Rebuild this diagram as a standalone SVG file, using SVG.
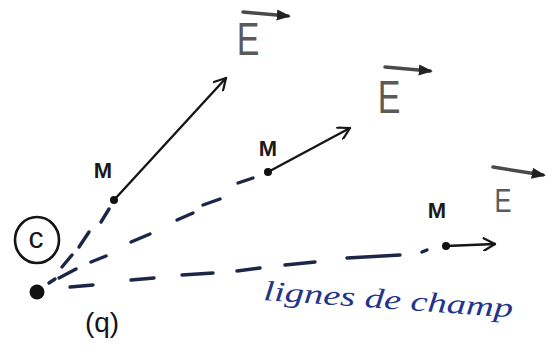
<svg xmlns="http://www.w3.org/2000/svg" width="560" height="354" viewBox="0 0 560 354">
<style>
.sol{stroke:#161616;stroke-width:2.4;fill:none;stroke-linecap:round}
.dash{stroke:#1c2748;stroke-width:3.4;fill:none;stroke-linecap:round}
.vec{stroke:#4a4a4a;stroke-width:3.5;fill:none;stroke-linecap:round}
.m{font-family:"Liberation Sans",Arial,sans-serif;font-size:22px;font-weight:bold;fill:#1a1a1a}
.e{font-family:"Liberation Sans",Arial,sans-serif;fill:#5a5a5a}
.q{font-family:"Liberation Sans",Arial,sans-serif;font-size:28px;fill:#151515}
.lab{font-family:"Liberation Serif","DejaVu Serif",serif;font-style:italic;font-size:28px;fill:#23358a}
</style>
<defs>
<marker id="open" viewBox="0 0 10 10" refX="9" refY="5" markerWidth="14" markerHeight="14" markerUnits="userSpaceOnUse" orient="auto">
<path d="M1,0.5 L9,5 L1,9.5" fill="none" stroke="#161616" stroke-width="1.6" stroke-linecap="round" stroke-linejoin="round"/>
</marker>
<marker id="fill" viewBox="0 0 10 10" refX="8" refY="5" markerWidth="14" markerHeight="14" markerUnits="userSpaceOnUse" orient="auto">
<path d="M0,1 L10,5 L0,9 Z" fill="#222"/>
</marker>
</defs>
<rect width="560" height="354" fill="#fff"/>
<g id="connectors">
<g id="line1">
<line class="dash" x1="49" y1="283" x2="55" y2="279"/>
<line class="dash" x1="62" y1="267" x2="72" y2="255"/>
<line class="dash" x1="79" y1="247" x2="89" y2="232"/>
<line class="dash" x1="101" y1="222" x2="109" y2="209"/>
<line class="sol" x1="114" y1="200" x2="226" y2="78" marker-end="url(#open)"/>
</g>
<g id="line2">
<line class="dash" x1="59" y1="278" x2="76" y2="269"/>
<line class="dash" x1="91" y1="262" x2="106" y2="256"/>
<line class="dash" x1="131" y1="242" x2="150" y2="234"/>
<line class="dash" x1="177" y1="220" x2="193" y2="213"/>
<line class="dash" x1="203" y1="205" x2="220" y2="199"/>
<line class="dash" x1="238" y1="183" x2="253" y2="178"/>
<line class="sol" x1="268" y1="172" x2="350" y2="128" marker-end="url(#open)"/>
</g>
<g id="line3">
<line class="dash" x1="70" y1="287" x2="93" y2="285"/>
<line class="dash" x1="131" y1="280" x2="154" y2="278"/>
<line class="dash" x1="182" y1="275" x2="213" y2="273"/>
<line class="dash" x1="237" y1="271" x2="260" y2="268"/>
<line class="dash" x1="285" y1="265" x2="315" y2="262"/>
<line class="dash" x1="347" y1="258" x2="400" y2="255"/>
<line class="dash" x1="422" y1="252" x2="427" y2="250"/>
<line class="sol" x1="446" y1="246" x2="495" y2="244" marker-end="url(#open)"/>
</g>
</g>
<g id="charge">
<circle cx="37" cy="292" r="7.5" fill="#111"/>
<ellipse cx="37" cy="240" rx="22" ry="23" fill="none" stroke="#151515" stroke-width="2.6"/>
<text x="36" y="248" text-anchor="middle" style="font-family:'Liberation Sans',Arial,sans-serif;font-size:30px;fill:#151515">c</text>
<text class="q" x="102" y="332" text-anchor="middle">(q)</text>
</g>
<g id="M1">
<circle cx="114" cy="200" r="4" fill="#111"/>
<text class="m" x="103" y="178" text-anchor="middle">M</text>
</g>
<g id="E1">
<line class="vec" x1="243" y1="12" x2="288" y2="16" marker-end="url(#fill)"/>
<text class="e" x="248" y="55" text-anchor="middle" font-size="40" transform="translate(248 55) scale(0.85 1.15) translate(-248 -55)">E</text>
</g>
<g id="M2">
<circle cx="268" cy="172" r="4" fill="#111"/>
<text class="m" x="268" y="156" text-anchor="middle">M</text>
</g>
<g id="E2">
<line class="vec" x1="385" y1="67" x2="430" y2="71" marker-end="url(#fill)"/>
<text class="e" x="389" y="113" text-anchor="middle" font-size="40" transform="translate(389 113) scale(0.85 1.15) translate(-389 -113)">E</text>
</g>
<g id="M3">
<circle cx="446" cy="246" r="4" fill="#111"/>
<text class="m" x="437" y="218" text-anchor="middle">M</text>
</g>
<g id="E3">
<line class="vec" x1="493" y1="167" x2="543" y2="175" marker-end="url(#fill)"/>
<text class="e" x="503" y="212" text-anchor="middle" font-size="30" transform="translate(503 212) scale(0.85 1.1) translate(-503 -212)">E</text>
</g>
<g id="label">
<text class="lab" x="263" y="300" textLength="250" lengthAdjust="spacingAndGlyphs" transform="rotate(4 263 300)">lignes de champ</text>
</g>
</svg>
